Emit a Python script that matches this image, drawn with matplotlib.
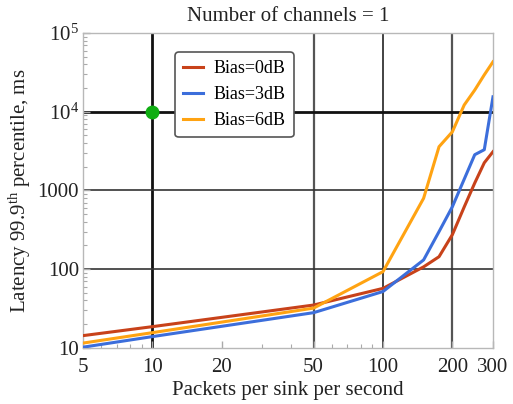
import matplotlib.pyplot as plt
from matplotlib.ticker import FixedLocator, FixedFormatter, LogLocator, NullFormatter

plt.rcParams['font.family'] = ['Liberation Serif', 'DejaVu Serif']
plt.rcParams['mathtext.fontset'] = 'custom'
plt.rcParams['mathtext.rm'] = 'Liberation Serif'
plt.rcParams['mathtext.it'] = 'Liberation Serif:italic'

# packets per sink per second
rate = [5, 10, 50, 100, 150, 175, 200, 225, 250, 275, 300]
# latency 99.9th percentile, ms
bias0 = [14.3, 18.6, 35, 57, 107, 144, 275, 617, 1245, 2250, 3110]
bias3 = [10.2, 13.9, 28, 52, 131, 300, 623, 1390, 2850, 3300, 15500]
bias6 = [11.5, 15.6, 32, 93, 796, 3600, 5580, 12200, 18900, 29500, 43200]

labels = ['Bias=0dB', 'Bias=3dB', 'Bias=6dB']
colors = ['#c8421a', '#3c6edb', '#ffa312']

xticks = [5, 10, 20, 50, 100, 200, 300]
yticks = [10, 100, 1000, 1e4, 1e5]
ytick_labels = ['10', '100', '1000', '$10^4$', '$10^5$']

# grid lines: (value, colour, width)
xgrid = [(10, '#111111', 2.0), (50, '#555555', 1.6), (100, '#222222', 1.2), (200, '#555555', 1.6)]
ygrid = [(100, '#333333', 1.2), (1000, '#333333', 1.2), (1e4, '#111111', 2.0)]

fig = plt.figure(figsize=(5.13, 4.04), dpi=100)
ax = fig.add_axes([0.162, 0.139, 0.799, 0.779])

ax.set_xscale('log')
ax.set_yscale('log')
ax.set_xlim(5, 300)
ax.set_ylim(10, 1e5)

for v, c, w in xgrid:
    ax.axvline(v, color=c, lw=w, zorder=1)
for v, c, w in ygrid:
    ax.axhline(v, color=c, lw=w, zorder=1)

for ys, lab, col in zip([bias0, bias3, bias6], labels, colors):
    ax.plot(rate, ys, color=col, lw=2.2, label=lab, zorder=3)

ax.plot([10], [1e4], 'o', color='#0fae12', ms=9, zorder=4, clip_on=False)

ax.xaxis.set_major_locator(FixedLocator(xticks))
ax.xaxis.set_major_formatter(FixedFormatter([str(t) for t in xticks]))
ax.xaxis.set_minor_locator(LogLocator(base=10, subs=range(2, 10), numticks=20))
ax.xaxis.set_minor_formatter(NullFormatter())
ax.yaxis.set_major_locator(FixedLocator(yticks))
ax.yaxis.set_major_formatter(FixedFormatter(ytick_labels))
ax.yaxis.set_minor_locator(LogLocator(base=10, subs=range(2, 10), numticks=20))
ax.yaxis.set_minor_formatter(NullFormatter())

ax.tick_params(which='both', direction='in', colors='#aaaaaa', labelcolor='#222222')
ax.tick_params(which='major', length=5, width=1.0, labelsize=15)
ax.tick_params(axis='x', which='major', pad=7)
ax.tick_params(axis='y', which='major', pad=3)
ax.tick_params(which='minor', length=3, width=0.8)
for s in ax.spines.values():
    s.set_color('#b8b8b8')
    s.set_linewidth(1.0)

ax.set_title('Number of channels = 1', fontsize=15, color='#222222', pad=9)
ax.set_xlabel('Packets per sink per second', fontsize=15, color='#222222', labelpad=3)
ax.set_ylabel(r'Latency 99.9$^{\mathrm{th}}$ percentile, ms', fontsize=15, color='#222222', labelpad=3)

leg = ax.legend(loc='upper left', bbox_to_anchor=(0.224, 0.94), borderaxespad=0, fontsize=13,
                handlelength=1.1, handletextpad=0.6, frameon=True, fancybox=True, framealpha=1,
                edgecolor='#555555', borderpad=0.45, labelspacing=0.5)
leg.get_frame().set_linewidth(1.2)
leg.set_zorder(5)

fig.savefig('out.png', dpi=100)
